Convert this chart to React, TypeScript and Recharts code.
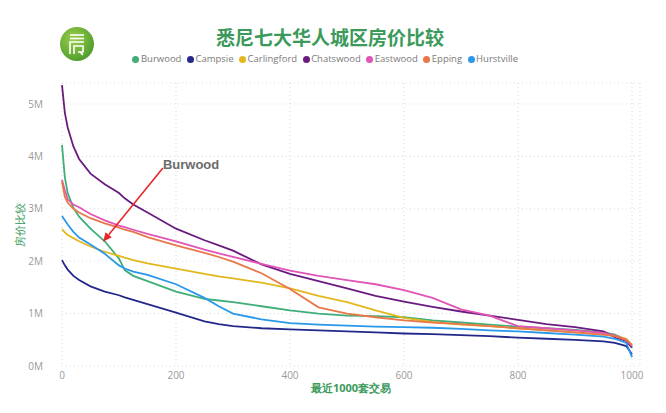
import React from 'react';
import { LineChart, Line, XAxis, YAxis, CartesianGrid, Legend, ReferenceLine } from 'recharts';

// transaction rank (x) and price in millions for each suburb
const RANK = [0, 5, 10, 20, 30, 50, 75, 100, 110, 125, 150, 200, 250, 275, 300, 350, 400, 450, 500, 550, 600, 650, 700, 750, 800, 850, 900, 950, 970, 990, 1000];

const BURWOOD = [4.22, 3.6, 3.3, 3.02, 2.85, 2.62, 2.38, 2.05, 1.83, 1.72, 1.62, 1.42, 1.28, 1.25, 1.22, 1.14, 1.06, 1.0, 0.96, 0.95, 0.93, 0.87, 0.83, 0.79, 0.75, 0.72, 0.69, 0.64, 0.6, 0.5, 0.35];
const CAMPSIE = [2.02, 1.92, 1.84, 1.72, 1.64, 1.52, 1.42, 1.35, 1.31, 1.26, 1.18, 1.02, 0.85, 0.8, 0.76, 0.72, 0.7, 0.68, 0.66, 0.64, 0.62, 0.61, 0.59, 0.57, 0.54, 0.52, 0.5, 0.47, 0.44, 0.38, 0.22];
const CARLINGFORD = [2.61, 2.55, 2.5, 2.44, 2.38, 2.28, 2.18, 2.1, 2.07, 2.02, 1.96, 1.86, 1.76, 1.71, 1.67, 1.59, 1.48, 1.34, 1.22, 1.06, 0.92, 0.84, 0.79, 0.76, 0.72, 0.68, 0.64, 0.6, 0.58, 0.52, 0.4];
const CHATSWOOD = [5.36, 4.83, 4.55, 4.19, 3.95, 3.67, 3.47, 3.3, 3.2, 3.08, 2.93, 2.62, 2.4, 2.3, 2.2, 1.94, 1.76, 1.62, 1.48, 1.34, 1.23, 1.13, 1.04, 0.96, 0.88, 0.8, 0.74, 0.66, 0.55, 0.48, 0.35];
const EASTWOOD = [3.55, 3.35, 3.18, 3.08, 3.03, 2.9, 2.78, 2.68, 2.65, 2.6, 2.52, 2.38, 2.22, 2.15, 2.08, 1.95, 1.82, 1.72, 1.64, 1.56, 1.45, 1.3, 1.08, 0.96, 0.76, 0.72, 0.68, 0.63, 0.58, 0.5, 0.38];
const EPPING = [3.52, 3.23, 3.12, 3.0, 2.93, 2.82, 2.72, 2.64, 2.6, 2.56, 2.46, 2.3, 2.16, 2.08, 1.99, 1.77, 1.47, 1.12, 1.0, 0.93, 0.87, 0.83, 0.8, 0.76, 0.72, 0.68, 0.64, 0.6, 0.57, 0.5, 0.4];
const HURSTVILLE = [2.86, 2.78, 2.7, 2.56, 2.45, 2.32, 2.14, 1.92, 1.86, 1.8, 1.74, 1.56, 1.3, 1.14, 1.0, 0.89, 0.82, 0.79, 0.77, 0.75, 0.74, 0.73, 0.71, 0.68, 0.66, 0.63, 0.6, 0.56, 0.52, 0.44, 0.17];

const Y_TICKS = [0, 1, 2, 3, 4, 5];
const X_TICKS = [0, 200, 400, 600, 800, 1000];

const SERIES = [
  { name: 'Burwood', values: BURWOOD, color: '#3fae78' },
  { name: 'Campsie', values: CAMPSIE, color: '#23288a' },
  { name: 'Carlingford', values: CARLINGFORD, color: '#e2b81c' },
  { name: 'Chatswood', values: CHATSWOOD, color: '#6a1b80' },
  { name: 'Eastwood', values: EASTWOOD, color: '#e055b6' },
  { name: 'Epping', values: EPPING, color: '#e8784a' },
  { name: 'Hurstville', values: HURSTVILLE, color: '#2a98ea' },
];

const data = RANK.map((rank, i) => {
  const row: Record<string, number> = { rank };
  SERIES.forEach(s => { row[s.name] = s.values[i]; });
  return row;
});

const GREEN = '#3b9a5a';

// red arrow with the "Burwood" note at its tail
const ArrowShape = (props: any) => {
  const { x1, y1, x2, y2 } = props;
  const ang = Math.atan2(y2 - y1, x2 - x1);
  const len = 9, half = 4;
  const bx = x2 - len * Math.cos(ang), by = y2 - len * Math.sin(ang);
  const p1 = `${bx + half * Math.sin(ang)},${by - half * Math.cos(ang)}`;
  const p2 = `${bx - half * Math.sin(ang)},${by + half * Math.cos(ang)}`;
  return (
    <g>
      <line x1={x1} y1={y1} x2={bx} y2={by} stroke="#e8262a" strokeWidth={1.6} />
      <polygon points={`${x2},${y2} ${p1} ${p2}`} fill="#e8262a" />
      <text x={x1} y={y1 + 1} fill="#6b6b6b" fontSize={13} fontWeight="bold" fontFamily="Liberation Sans, Arial, sans-serif">Burwood</text>
    </g>
  );
};

// compact legend, grey labels
const LegendContent = (props: any) => (
  <div style={{ textAlign: 'center', fontSize: 9.5, color: '#7a7a7a', lineHeight: '12px' }}>
    {(props.payload || []).map((p: any) => (
      <span key={p.value} style={{ marginRight: 5.5, whiteSpace: 'nowrap' }}>
        <span style={{ display: 'inline-block', width: 7, height: 7, borderRadius: '50%', background: p.color, marginRight: 1.5, verticalAlign: -0.5 }} />
        {p.value}
      </span>
    ))}
  </div>
);

function Logo() {
  return (
    <svg width={36} height={36} style={{ position: 'absolute', left: 59, top: 26 }}>
      <defs>
        <radialGradient id="lg" cx="40%" cy="35%" r="70%">
          <stop offset="0%" stopColor="#9ccf4a" />
          <stop offset="100%" stopColor="#4c9a2c" />
        </radialGradient>
      </defs>
      <circle cx={18} cy={18} r={17} fill="url(#lg)" />
      <g stroke="#fff" strokeWidth={1.6} fill="none">
        <line x1={11} y1={9} x2={25} y2={9} />
        <line x1={11} y1={12.5} x2={25} y2={12.5} />
        <polyline points="11,28 11,16 25,16" />
        <polyline points="15,28 15,20 24,20 24,26 19,26" />
        <line x1={21} y1={26} x2={24} y2={29} />
      </g>
    </svg>
  );
}

export default function App() {
  return (
    <div style={{ position: 'absolute', left: 0, top: 0, width: 666, height: 413, background: '#fff', fontFamily: '"Open Sans", sans-serif' }}>
      <Logo />
      <div style={{ position: 'absolute', left: 0, top: 24, width: 660, textAlign: 'center', color: GREEN, fontSize: 19, fontWeight: 'bold', fontFamily: '"Noto Sans CJK SC", sans-serif', lineHeight: '26px' }}>
        悉尼七大华人城区房价比较
      </div>
      <LineChart width={666} height={413} data={data} margin={{ top: 83, right: 26, bottom: 17, left: 15 }}>
        <CartesianGrid stroke="#d9d9d9" strokeDasharray="1 3" />
        <XAxis
          dataKey="rank"
          type="number"
          domain={[0, 1014]}
          ticks={X_TICKS}
          axisLine={false}
          tickLine={false}
          tickMargin={0}
          height={30}
          tick={{ fill: '#9a9a9a', fontSize: 10 }}
          label={{ value: '最近1000套交易', position: 'insideBottom', offset: 4, fill: GREEN, fontSize: 11, fontWeight: 'bold' }}
        />
        <YAxis
          type="number"
          domain={[0, 5.4]}
          ticks={Y_TICKS}
          tickFormatter={(v: number) => `${v}M`}
          axisLine={false}
          tickLine={false}
          tickSize={6}
          tickMargin={13}
          width={47}
          tick={{ fill: '#9a9a9a', fontSize: 10 }}
          label={{ value: '房价比较', angle: -90, position: 'insideLeft', offset: 5, textAnchor: 'middle', fill: GREEN, fontSize: 11 }}
        />
        <Legend
          verticalAlign="middle"
          align="center"
          wrapperStyle={{ top: 53, left: 0, width: 656 }}
          content={LegendContent}
        />
        {SERIES.map(s => (
          <Line
            key={s.name}
            type="linear"
            dataKey={s.name}
            stroke={s.color}
            strokeWidth={1.8}
            dot={false}
            isAnimationActive={false}
          />
        ))}
        <ReferenceLine
          segment={[{ x: 177, y: 3.78 }, { x: 72, y: 2.37 }]}
          shape={ArrowShape}
        />
      </LineChart>
    </div>
  );
}
